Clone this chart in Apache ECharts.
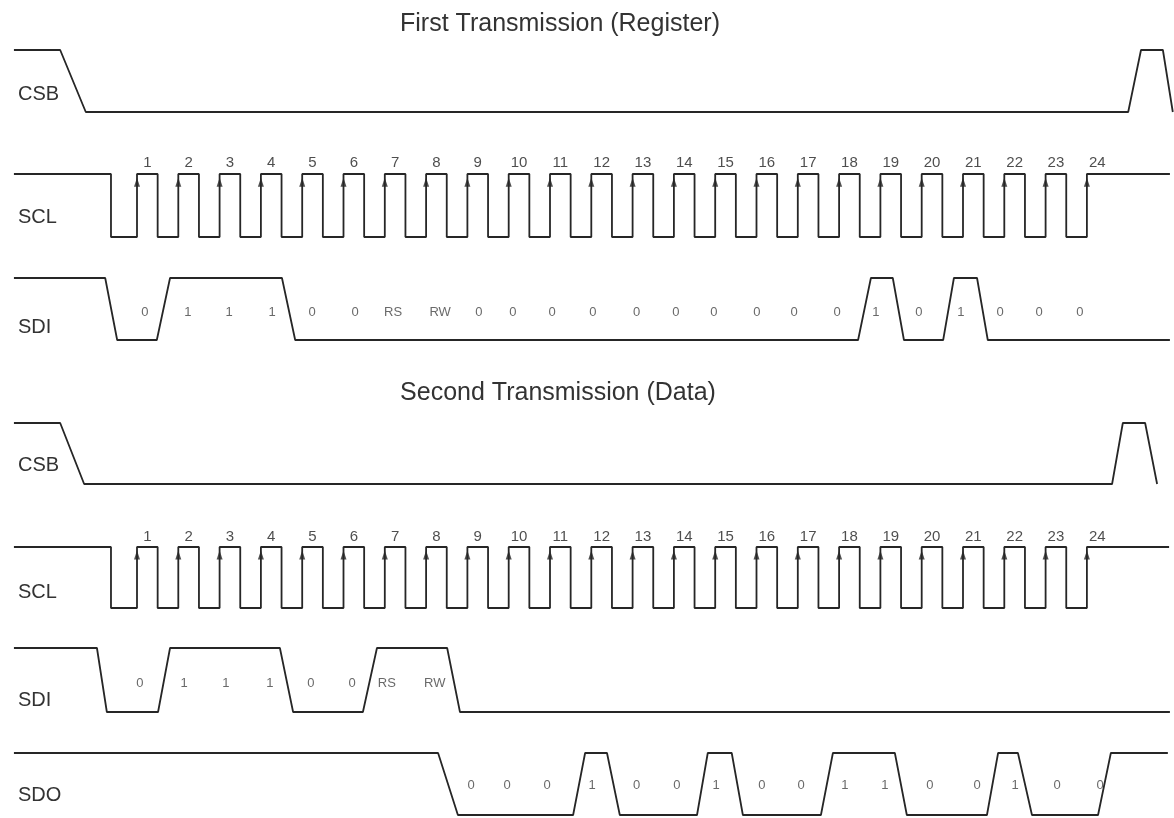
<!DOCTYPE html>
<html>
<head>
<meta charset="utf-8">
<script src="https://cdn.jsdelivr.net/npm/echarts@6/dist/echarts.min.js"></script>
<style>
  html, body { margin: 0; background: #fff; }
  #chart { width: 1174px; height: 818px; }
</style>
</head>
<body>
<div id="chart"></div>
<script>
// time unit = one SCL period, rising edge k sits at t = k
const clockRise = [1, 2, 3, 4, 5, 6, 7, 8, 9, 10, 11, 12, 13, 14, 15, 16, 17, 18, 19, 20, 21, 22, 23, 24]
const clockHigh = 0.5
const clockNumbers = ['1', '2', '3', '4', '5', '6', '7', '8', '9', '10', '11', '12', '13', '14', '15', '16', '17', '18', '19', '20', '21', '22', '23', '24']

// waveforms as [t, level] corner points
const csb1 = [[-1.98, 1], [-0.86, 1], [-0.24, 0], [25.0, 0], [25.31, 1], [25.84, 1], [26.08, 0]]
const csb2 = [[-1.98, 1], [-0.86, 1], [-0.28, 0], [24.61, 0], [24.87, 1], [25.41, 1], [25.7, 0]]
const scl1Idle = [[-1.98, 1], [0.37, 1], [0.37, 0]]
const scl2Idle = [[-1.98, 1], [0.37, 1], [0.37, 0]]
const scl1End = 26.01
const scl2End = 25.99
const sdi1 = [[-1.98, 1], [0.23, 1], [0.52, 0], [1.48, 0], [1.8, 1], [4.51, 1], [4.83, 0], [18.46, 0], [18.77, 1],
  [19.3, 1], [19.57, 0], [20.52, 0], [20.78, 1], [21.34, 1], [21.6, 0], [26.01, 0]]
const sdi2 = [[-1.98, 1], [0.03, 1], [0.27, 0], [1.51, 0], [1.8, 1], [4.46, 1], [4.78, 0], [6.47, 0], [6.81, 1],
  [8.51, 1], [8.82, 0], [26.01, 0]]
const sdo = [[-1.98, 1], [8.29, 1], [8.77, 0], [11.56, 0], [11.85, 1], [12.38, 1], [12.69, 0], [14.56, 0], [14.82, 1],
  [15.4, 1], [15.67, 0], [17.56, 0], [17.85, 1], [19.35, 1], [19.64, 0], [21.58, 0], [21.85, 1], [22.33, 1],
  [22.67, 0], [24.27, 0], [24.58, 1], [25.96, 1]]

// bit labels
const sdi1Bits = ['0', '1', '1', '1', '0', '0', 'RS', 'RW', '0', '0', '0', '0', '0', '0', '0', '0', '0', '0', '1', '0', '1', '0', '0', '0']
const sdi1BitT = [1.19, 2.23, 3.23, 4.27, 5.24, 6.28, 7.2, 8.34, 9.28, 10.1, 11.05, 12.04, 13.1, 14.05, 14.97, 16.01,
  16.91, 17.95, 18.89, 19.93, 20.95, 21.9, 22.84, 23.83]
const sdi2Bits = ['0', '1', '1', '1', '0', '0', 'RS', 'RW']
const sdi2BitT = [1.07, 2.14, 3.15, 4.22, 5.21, 6.21, 7.05, 8.21]
const sdoBits = ['0', '0', '0', '1', '0', '0', '1', '0', '0', '1', '1', '0', '0', '1', '0', '0']
const sdoBitT = [9.09, 9.96, 10.93, 12.02, 13.1, 14.07, 15.02, 16.13, 17.08, 18.14, 19.11, 20.2, 21.34, 22.26, 23.28, 24.32]

const chart = echarts.init(document.getElementById('chart'))

const lineColor = '#262626'
const font = 'Liberation Sans, Arial, sans-serif'

// time axis: 41.3px per clock period, t = 0 at x = 95.7
const tMin = -2
const tMax = 26.08

// rows: grid top = high level, height = swing
const rows = [
  { name: 'CSB', top: 50, height: 62, labelY: 94 },
  { name: 'SCL', top: 174, height: 63, labelY: 217 },
  { name: 'SDI', top: 278, height: 62, labelY: 327 },
  { name: 'CSB', top: 423, height: 61, labelY: 465 },
  { name: 'SCL', top: 547, height: 61, labelY: 592 },
  { name: 'SDI', top: 648, height: 64, labelY: 700 },
  { name: 'SDO', top: 753, height: 62, labelY: 795 }
]

const buildClock = (idle, end) => {
  const pts = idle.slice()
  clockRise.forEach((r, i) => {
    pts.push([r, 0], [r, 1])
    if (i < clockRise.length - 1) {
      pts.push([r + clockHigh, 1], [r + clockHigh, 0])
    } else {
      pts.push([end, 1])
    }
  })
  return pts
}

const wave = (idx, data) => ({
  type: 'line',
  xAxisIndex: idx,
  yAxisIndex: idx,
  data: data,
  symbol: 'none',
  clip: false,
  silent: true,
  lineStyle: { color: lineColor, width: 1.8 }
})

const textSeries = (idx, xs, texts, level, size, color) => ({
  type: 'scatter',
  xAxisIndex: idx,
  yAxisIndex: idx,
  symbolSize: 0,
  clip: false,
  silent: true,
  data: xs.map((x, i) => ({ value: [x, level], name: texts[i] })),
  label: {
    show: true,
    position: 'inside',
    formatter: '{b}',
    fontFamily: font,
    fontSize: size,
    color: color
  }
})

const arrows = (idx) => ({
  type: 'scatter',
  xAxisIndex: idx,
  yAxisIndex: idx,
  symbol: 'triangle',
  symbolSize: [6, 9],
  clip: false,
  silent: true,
  itemStyle: { color: lineColor },
  data: clockRise.map(r => [r, 0.87])
})

const option = {
  animation: false,
  grid: rows.map(r => ({ left: 13.1, width: (tMax - tMin) * 41.3, top: r.top, height: r.height })),
  xAxis: rows.map((r, i) => ({ gridIndex: i, type: 'value', min: tMin, max: tMax, show: false })),
  yAxis: rows.map((r, i) => ({ gridIndex: i, type: 'value', min: 0, max: 1, show: false })),
  graphic: [
    { type: 'text', x: 560, y: 24, style: { text: 'First Transmission (Register)', font: '25px ' + font, fill: '#333', align: 'center', verticalAlign: 'middle' } },
    { type: 'text', x: 558, y: 393, style: { text: 'Second Transmission (Data)', font: '25px ' + font, fill: '#333', align: 'center', verticalAlign: 'middle' } }
  ].concat(rows.map(r => ({
    type: 'text', x: 18, y: r.labelY,
    style: { text: r.name, font: '20px ' + font, fill: '#333', align: 'left', verticalAlign: 'middle' }
  }))),
  series: [
    wave(0, csb1),
    wave(1, buildClock(scl1Idle, scl1End)),
    arrows(1),
    textSeries(1, clockRise.map(r => r + 0.25), clockNumbers, 1.175, 15, '#222'),
    wave(2, sdi1),
    textSeries(2, sdi1BitT, sdi1Bits, 0.45, 13, '#444'),
    wave(3, csb2),
    wave(4, buildClock(scl2Idle, scl2End)),
    arrows(4),
    textSeries(4, clockRise.map(r => r + 0.25), clockNumbers, 1.17, 15, '#222'),
    wave(5, sdi2),
    textSeries(5, sdi2BitT, sdi2Bits, 0.45, 13, '#444'),
    wave(6, sdo),
    textSeries(6, sdoBitT, sdoBits, 0.48, 13, '#444')
  ]
}

chart.setOption(option)
window.addEventListener('resize', () => chart.resize())
</script>
</body>
</html>
